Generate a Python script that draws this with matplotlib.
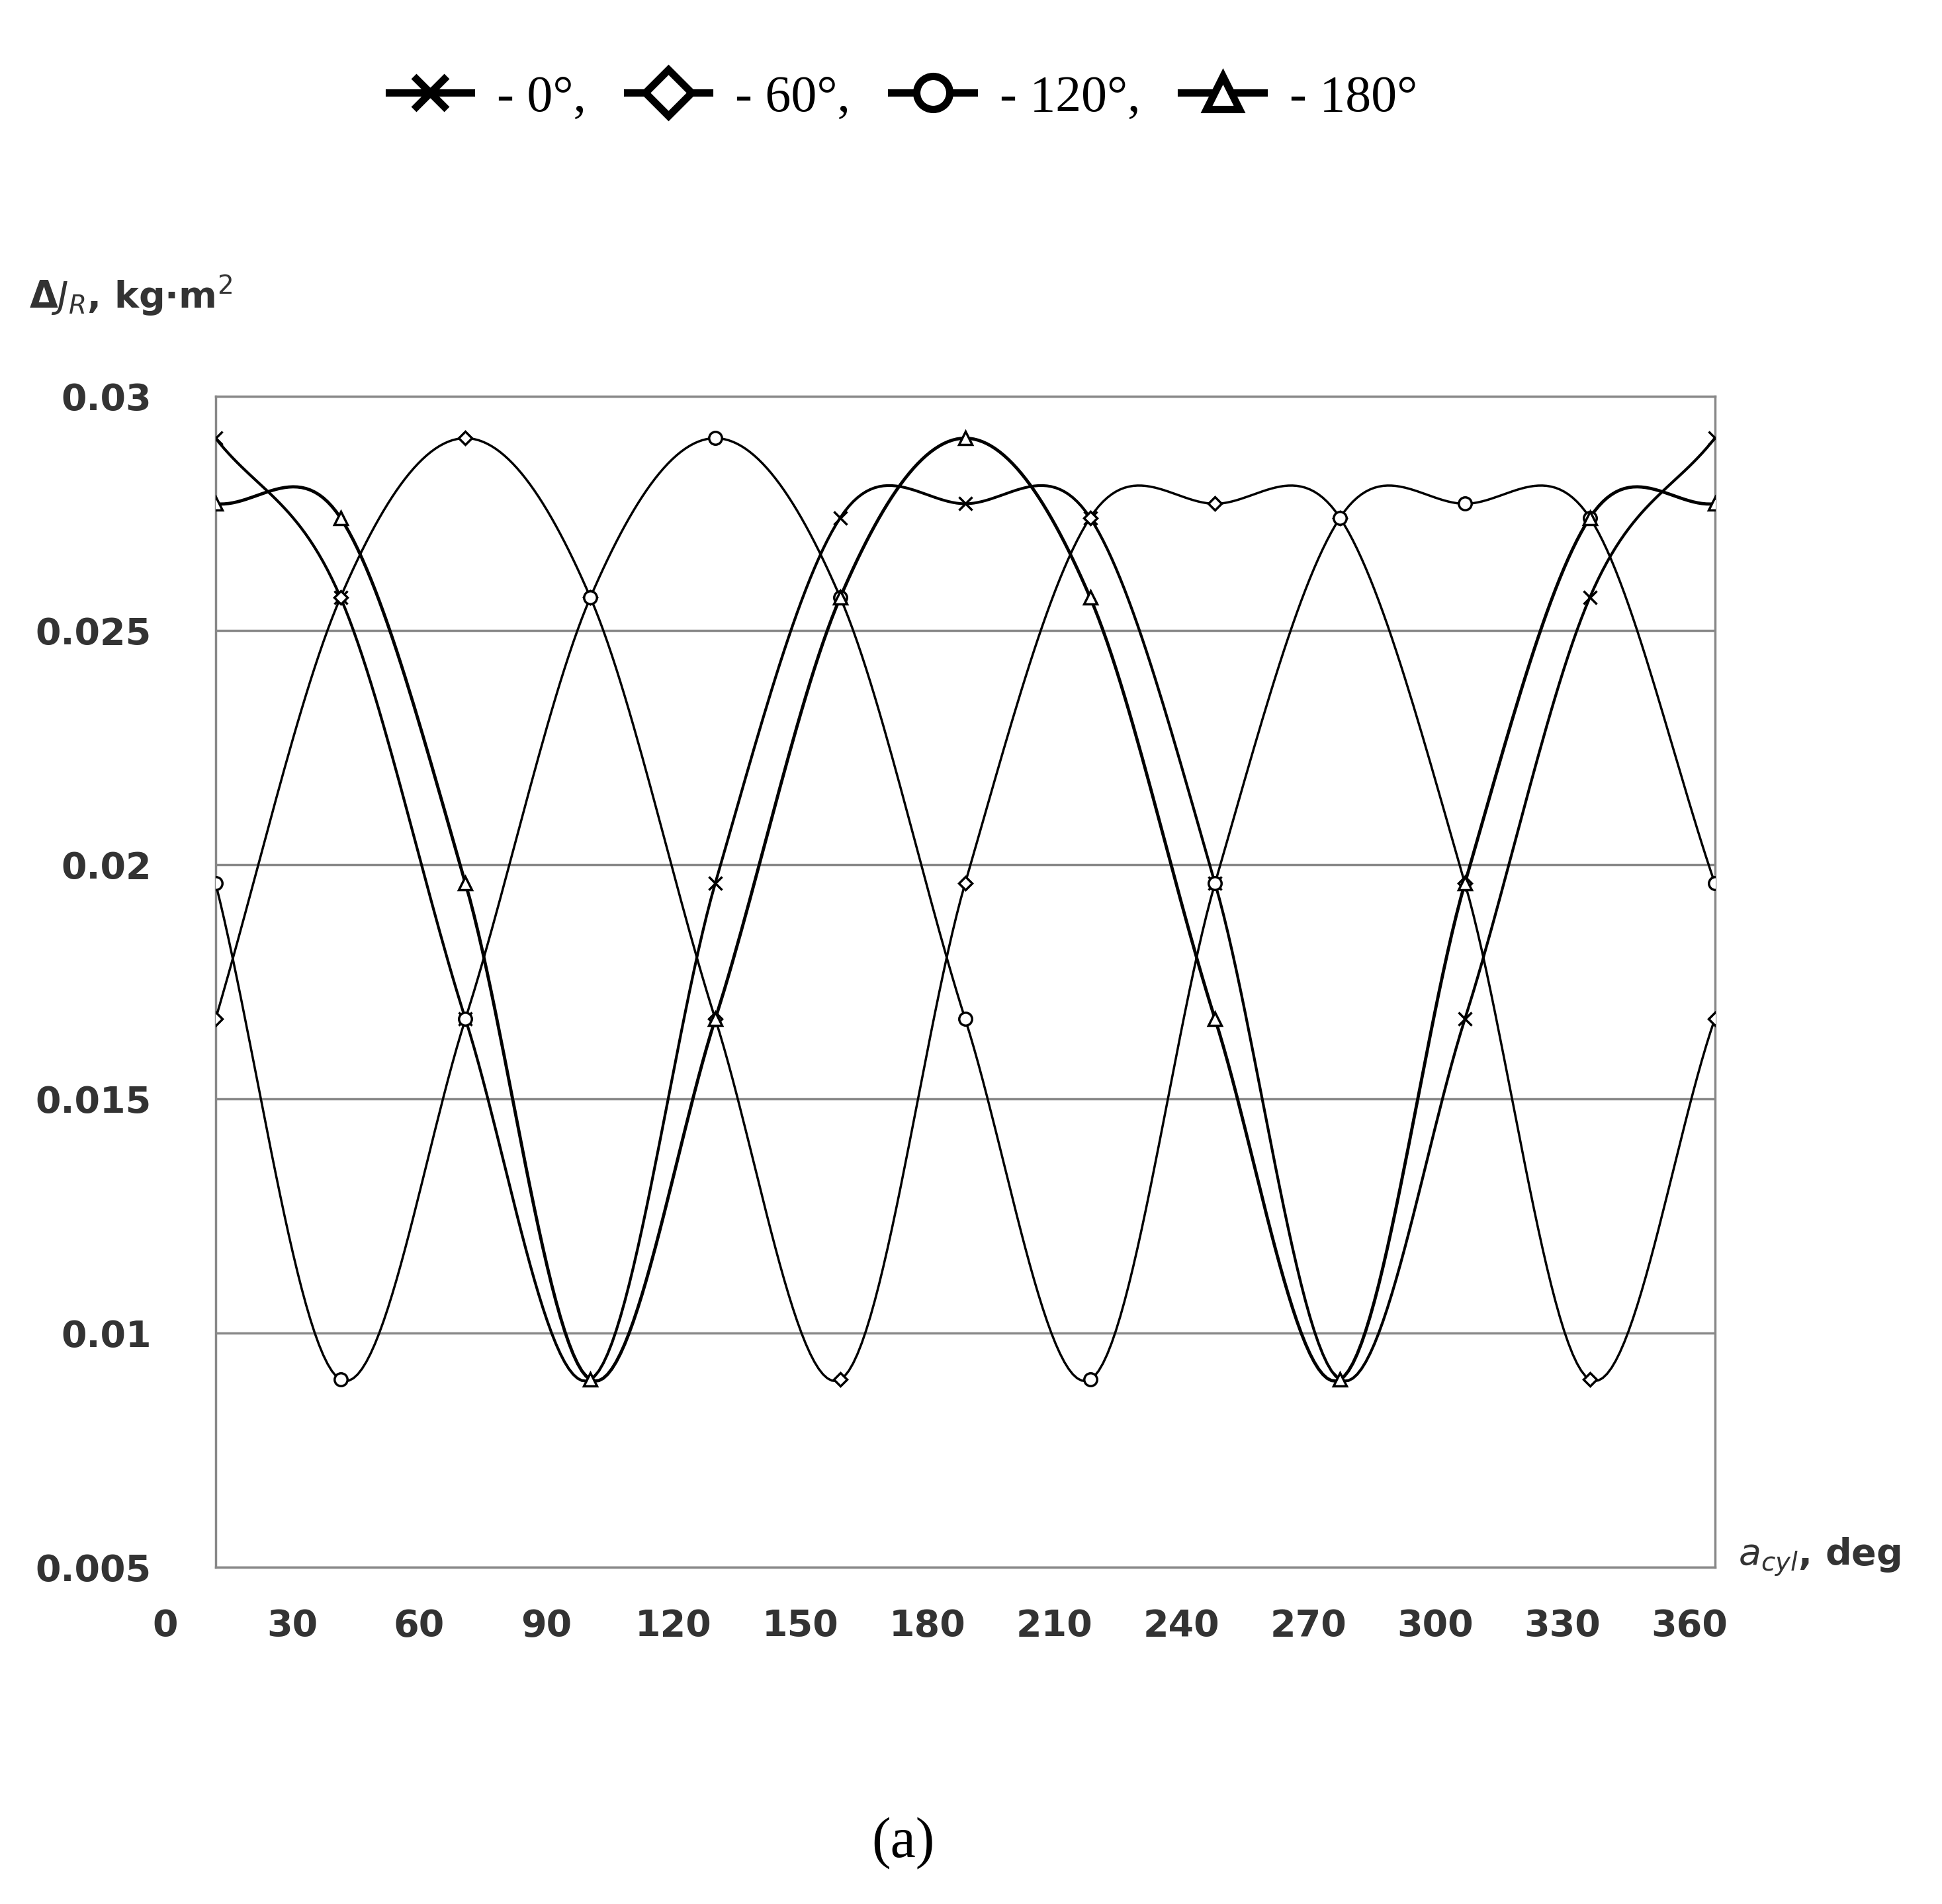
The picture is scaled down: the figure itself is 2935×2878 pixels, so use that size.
import numpy as np
import matplotlib
matplotlib.use("Agg")
import matplotlib.pyplot as plt
from matplotlib.lines import Line2D

x_idx = list(range(13))
s0 = [0.0291, 0.0257, 0.0167, 0.0090, 0.0196, 0.0274, 0.0277, 0.0274, 0.0196, 0.0090, 0.0167, 0.0257, 0.0291]
s60 = [0.0167, 0.0257, 0.0291, 0.0257, 0.0167, 0.0090, 0.0196, 0.0274, 0.0277, 0.0274, 0.0196, 0.0090, 0.0167]
s120 = [0.0196, 0.0090, 0.0167, 0.0257, 0.0291, 0.0257, 0.0167, 0.0090, 0.0196, 0.0274, 0.0277, 0.0274, 0.0196]
s180 = [0.0277, 0.0274, 0.0196, 0.0090, 0.0167, 0.0257, 0.0291, 0.0257, 0.0167, 0.0090, 0.0196, 0.0274, 0.0277]
xticks = [0, 30, 60, 90, 120, 150, 180, 210, 240, 270, 300, 330, 360]
yticks = [0.005, 0.01, 0.015, 0.02, 0.025, 0.03]
ylabels = ["0.005", "0.01", "0.015", "0.02", "0.025", "0.03"]

def smooth(x, y, n=30):
    x = np.asarray(x, float); y = np.asarray(y, float)
    px = np.concatenate([[2*x[0]-x[1]], x, [2*x[-1]-x[-2]]])
    py = np.concatenate([[2*y[0]-y[1]], y, [2*y[-1]-y[-2]]])
    ox, oy = [], []
    t = np.linspace(0, 1, n)
    for i in range(1, len(px)-2):
        for arr, out in ((px, ox), (py, oy)):
            p0, p1, p2, p3 = arr[i-1:i+3]
            out.extend(0.5*((2*p1) + (-p0+p2)*t + (2*p0-5*p1+4*p2-p3)*t**2 + (-p0+3*p1-3*p2+p3)*t**3))
    return ox, oy

fig = plt.figure(figsize=(29.35, 28.78), dpi=100)
ax = fig.add_axes([0.111, 0.177, 0.772, 0.615])
series = [(s0, 'x', 3.0), (s60, 'D', 2.5), (s120, 'o', 2.5), (s180, '^', 3.5)]
for ys, m, lw in series:
    sx, sy = smooth(x_idx, ys)
    ax.plot(sx, sy, color='black', lw=lw, zorder=3)
    ms = 14 if m != 'D' else 10
    ax.plot(x_idx, ys, ls='none', marker=m, ms=ms, mfc='white', mec='black', mew=2.5, zorder=4)
ax.set_xlim(0, 12)
ax.set_ylim(0.005, 0.03)
ax.set_yticks(yticks)
ax.set_yticklabels(ylabels, fontsize=40, fontweight='bold', color='#333333')
ax.yaxis.grid(True, color='#888888', lw=2.5)
ax.set_xticks([])
for s in ax.spines.values():
    s.set_color('#888888'); s.set_linewidth(2.5)
ax.tick_params(axis='y', length=0, pad=70)

axl = fig.add_axes([0.085, 0.177, 0.785, 0.001])
axl.set_xlim(0, 360)
axl.set_xticks(xticks)
axl.set_xticklabels([str(v) for v in xticks], fontsize=40, fontweight='bold', color='#333333')
axl.tick_params(axis='x', length=0, pad=45)
axl.set_yticks([])
for s in axl.spines.values():
    s.set_visible(False)
axl.patch.set_visible(False)

fig.text(0.015, 0.838, r"$\mathbf{\Delta}\mathit{J_R}$, kg·m$^{2}$", fontsize=40, fontweight='bold', color='#333333', ha='left')
fig.text(0.895, 0.178, r"$\mathit{a_{cyl}}$, deg", fontsize=40, fontweight='bold', color='#333333', ha='left')

handles = [Line2D([], [], color='black', lw=8, marker=m, ms=36, mfc='white', mec='black', mew=8)
           for _, m, _ in series]
labels = ["- 0°,", "- 60°,", "- 120°,", "- 180°"]
fig.legend(handles, labels, loc='upper center', bbox_to_anchor=(0.465, 0.985), ncol=4, frameon=False,
           prop={'family': 'Liberation Serif', 'size': 56}, handlelength=1.6, columnspacing=0.8, handletextpad=0.5)
fig.text(0.465, 0.025, "(a)", fontsize=62, family='Liberation Serif', ha='center')
fig.savefig("out.png", dpi=100)
